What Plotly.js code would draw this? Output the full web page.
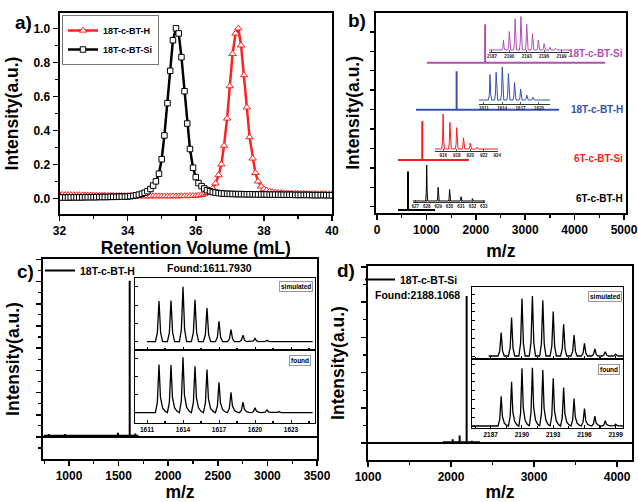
<!DOCTYPE html>
<html><head><meta charset="utf-8">
<script src="https://cdn.plot.ly/plotly-3.0.1.min.js"></script>
<style>html,body{margin:0;padding:0;background:#fff}#chart{width:638px;height:502px}</style>
</head><body><div id="chart"></div>
<script>
// ---------- Panel a: GPC (retention volume, mL) ----------
const elutionVolume = [
32.00,32.08,32.17,32.25,32.33,32.42,32.50,32.58,32.67,32.75,32.83,32.92,
33.00,33.08,33.17,33.25,33.33,33.42,33.50,33.58,33.67,33.75,33.83,33.92,
34.00,34.08,34.17,34.25,34.33,34.42,34.50,34.58,34.67,34.75,34.83,34.92,
35.00,35.08,35.17,35.25,35.33,35.42,35.50,35.58,35.67,35.75,35.83,35.92,
36.00,36.08,36.17,36.25,36.33,36.42,36.50,36.58,36.67,36.75,36.83,36.92,
37.00,37.08,37.17,37.25,37.33,37.42,37.50,37.58,37.67,37.75,37.83,37.92,
38.00,38.08,38.17,38.25,38.33,38.42,38.50,38.58,38.67,38.75,38.83,38.92,
39.00,39.08,39.17,39.25,39.33,39.42,39.50,39.58,39.67,39.75,39.83,39.92,
40.00];
const gpc18TcBTH = [
0.022,0.022,0.021,0.021,0.021,0.020,0.020,0.020,0.019,0.019,0.019,0.018,
0.018,0.018,0.017,0.017,0.017,0.016,0.016,0.016,0.015,0.015,0.015,0.015,
0.014,0.014,0.014,0.014,0.013,0.013,0.013,0.013,0.013,0.013,0.013,0.013,
0.013,0.013,0.013,0.013,0.013,0.013,0.013,0.014,0.014,0.014,0.015,0.015,
0.016,0.018,0.020,0.025,0.032,0.042,0.059,0.088,0.137,0.200,0.310,0.470,
0.660,0.850,0.970,1.000,0.900,0.725,0.535,0.360,0.235,0.150,0.100,0.070,
0.055,0.047,0.042,0.038,0.035,0.033,0.032,0.031,0.030,0.030,0.029,0.029,
0.028,0.028,0.028,0.027,0.027,0.027,0.026,0.026,0.026,0.026,0.025,0.025,
0.025];
const gpc18TcBTSi = [
0.005,0.005,0.005,0.005,0.006,0.006,0.006,0.006,0.006,0.007,0.007,0.007,
0.007,0.007,0.008,0.008,0.008,0.008,0.009,0.009,0.009,0.010,0.010,0.010,
0.011,0.013,0.015,0.018,0.022,0.027,0.033,0.042,0.055,0.075,0.100,0.145,
0.230,0.370,0.560,0.750,0.930,1.000,0.970,0.830,0.630,0.440,0.290,0.180,
0.125,0.090,0.072,0.058,0.048,0.042,0.037,0.034,0.031,0.029,0.028,0.027,
0.026,0.026,0.025,0.025,0.025,0.024,0.024,0.024,0.024,0.023,0.023,0.023,
0.023,0.023,0.022,0.022,0.022,0.022,0.021,0.021,0.021,0.021,0.021,0.020,
0.020,0.020,0.020,0.020,0.020,0.019,0.019,0.019,0.019,0.019,0.019,0.018,
0.018];

// ---------- Panel b: stacked MALDI spectra ----------
const bNames    = ['6T-c-BT-H', '6T-c-BT-Si', '18T-c-BT-H', '18T-c-BT-Si'];
const bMainMz   = [628, 916, 1612, 2188];
const bScanFrom = [425, 425, 790, 1010];
const bScanTo   = [1175, 1860, 3685, 4615];
const bIso6H_mz   = [628, 629, 630, 631, 632];
const bIso6H_int  = [1.00, 0.38, 0.32, 0.12, 0.065];
const bIso6Si_mz  = [916, 917, 918, 919, 920, 921];
const bIso6Si_int = [1.00, 0.76, 0.61, 0.32, 0.17, 0.05];
const bIso18H_mz  = [1612, 1613, 1614, 1615, 1616, 1617, 1618, 1619, 1620];
const bIso18H_int = [0.77, 0.84, 1.00, 0.80, 0.53, 0.33, 0.15, 0.08, 0.02];
const bIso18Si_mz = [2189, 2190, 2191, 2192, 2193, 2194, 2195, 2196, 2197, 2198, 2199];
const bIso18Si_int= [0.30, 0.55, 0.93, 1.00, 0.77, 0.49, 0.30, 0.19, 0.08, 0.05, 0.02];

// ---------- Panel c: 18T-c-BT-H ----------
const cMainMz  = [796, 960, 1494, 1612, 1668];
const cMainInt = [0.012, 0.012, 0.02, 1.0, 0.015];
const cIsoMz   = [1612, 1613, 1614, 1615, 1616, 1617, 1618, 1619, 1620, 1621, 1622];
const cSimInt  = [0.74, 0.75, 1.00, 0.76, 0.61, 0.37, 0.22, 0.12, 0.06, 0.025, 0.01];
const cFoundInt= [0.87, 0.86, 1.00, 0.84, 0.78, 0.55, 0.37, 0.19, 0.09, 0.05, 0.02];

// ---------- Panel d: 18T-c-BT-Si ----------
const dMainMz  = [2020, 2104, 2188, 2250];
const dMainInt = [0.02, 0.045, 1.0, 0.01];
const dIsoMz   = [2188, 2189, 2190, 2191, 2192, 2193, 2194, 2195, 2196, 2197, 2198, 2199];
const dSimInt  = [0.39, 0.64, 0.96, 1.00, 0.93, 0.74, 0.53, 0.35, 0.21, 0.12, 0.07, 0.03];
const dFoundInt= [0.51, 0.76, 0.99, 1.00, 0.96, 0.82, 0.66, 0.47, 0.30, 0.17, 0.09, 0.03];

// ---------- helpers ----------
const W = 638, H = 502;
const FF = 'Liberation Sans, Arial, sans-serif';
const f = (size, color) => ({family: FF, size: size, color: color || '#000', weight: 'bold'});
const px = X => X / W, py = Y => 1 - Y / H;

const PEAK = [[-1, 0], [-0.45, 0.22], [0, 1], [0.45, 0.22], [1, 0]];
const TAIL = [[-1, 0], [-0.45, 0.22], [0, 1], [0.4, 0.32], [1, 0.1], [1.7, 0.03]];
function profile(start, end, mz, inten, w, shape) {
  const x = [start], y = [0];
  mz.forEach((m, i) => shape.forEach(([dx, fr]) => { x.push(m + dx * w); y.push(inten[i] * fr); }));
  x.push(end); y.push(0);
  return {x, y};
}
function sticks(start, end, mz, inten, base) {
  const x = [start], y = [base];
  mz.forEach((m, i) => { x.push(m, m, m); y.push(base, base + inten[i], base); });
  x.push(end); y.push(base);
  return {x, y};
}
function frameAxis(o) {
  return Object.assign({showline: true, linewidth: 2, linecolor: '#000', mirror: true,
    ticks: 'outside', ticklen: 5, tickwidth: 1.5, tickcolor: '#000', showgrid: false,
    zeroline: false, tickfont: f(12), fixedrange: true}, o);
}
function insetAxis(o) {
  return Object.assign({showline: true, linewidth: 1.2, linecolor: '#000', mirror: true,
    ticks: 'inside', ticklen: 3, tickwidth: 1, tickcolor: '#000', showgrid: false,
    zeroline: false, showticklabels: false, tickfont: f(6.5), fixedrange: true}, o);
}
function minor(dt, len) { return {dtick: dt, ticklen: len || 3, tickwidth: 1.2, tickcolor: '#000'}; }
function ttl(text, size, standoff) { return {text: text, font: f(size), standoff: standoff}; }

const traces = [];

// panel a
traces.push({x: elutionVolume, y: gpc18TcBTH, name: '18T-c-BT-H', type: 'scatter', mode: 'lines+markers',
  line: {color: '#ff2020', width: 2.5},
  marker: {symbol: 'triangle-up', size: 6.5, color: '#fff', line: {color: '#ff2020', width: 1}},
  xaxis: 'x', yaxis: 'y', legend: 'legend'});
traces.push({x: elutionVolume, y: gpc18TcBTSi, name: '18T-c-BT-Si', type: 'scatter', mode: 'lines+markers',
  line: {color: '#000', width: 2.5},
  marker: {symbol: 'square', size: 5.5, color: '#fff', line: {color: '#000', width: 1}},
  xaxis: 'x', yaxis: 'y', legend: 'legend'});

// panel b
const bColors = ['#000000', '#ff1a1a', '#3552b0', '#b150b1'];
const bOffset = [3, 53, 103, 150], bScale = 38.5;
const bIso = [[bIso6H_mz, bIso6H_int], [bIso6Si_mz, bIso6Si_int], [bIso18H_mz, bIso18H_int], [bIso18Si_mz, bIso18Si_int]];
const bInsetRangeX = [[626.8, 633.1], [914.8, 924.1], [1610.2, 1621.8], [2186.5, 2200.3]];
const bPeakW = [0.09, 0.2, 0.25, 0.25];
bNames.forEach((nm, i) => {
  const s = sticks(bScanFrom[i], bScanTo[i], [bMainMz[i]], [bScale], bOffset[i]);
  traces.push({x: s.x, y: s.y, name: nm, type: 'scatter', mode: 'lines', showlegend: false,
    line: {color: bColors[i], width: 2}, xaxis: 'x2', yaxis: 'y2'});
  const p = profile(bInsetRangeX[i][0], bInsetRangeX[i][1], bIso[i][0], bIso[i][1], bPeakW[i], PEAK);
  traces.push({x: p.x, y: p.y, name: nm + ' isotopes', type: 'scatter', mode: 'lines', showlegend: false,
    line: {color: bColors[i], width: 1}, xaxis: 'x' + (3 + i), yaxis: 'y' + (3 + i)});
});

// panel c
const cs = sticks(745, 1700, cMainMz, cMainInt, 0.008);
traces.push({x: cs.x, y: cs.y, name: '18T-c-BT-H', type: 'scatter', mode: 'lines',
  line: {color: '#000', width: 2}, xaxis: 'x7', yaxis: 'y7', legend: 'legend2'});
const csim = profile(1611.0, 1624.8, cIsoMz, cSimInt, 0.3, PEAK);
traces.push({x: csim.x, y: csim.y, name: 'simulated', type: 'scatter', mode: 'lines', showlegend: false,
  line: {color: '#000', width: 1.3}, xaxis: 'x8', yaxis: 'y8'});
const cfd = profile(1610.0, 1624.8, cIsoMz, cFoundInt, 0.3, TAIL);
traces.push({x: cfd.x, y: cfd.y, name: 'found', type: 'scatter', mode: 'lines', showlegend: false,
  line: {color: '#000', width: 1.3}, xaxis: 'x9', yaxis: 'y9'});

// panel d
const ds = sticks(1900, 2350, dMainMz, dMainInt, 0.006);
traces.push({x: ds.x, y: ds.y, name: '18T-c-BT-Si', type: 'scatter', mode: 'lines',
  line: {color: '#000', width: 2}, xaxis: 'x10', yaxis: 'y10', legend: 'legend3'});
const dsim = profile(2186.8, 2199.7, dIsoMz, dSimInt, 0.3, PEAK);
traces.push({x: dsim.x, y: dsim.y, name: 'simulated', type: 'scatter', mode: 'lines', showlegend: false,
  line: {color: '#000', width: 1.3}, xaxis: 'x11', yaxis: 'y11'});
const dfd = profile(2185.2, 2199.7, dIsoMz, dFoundInt, 0.3, TAIL);
traces.push({x: dfd.x, y: dfd.y, name: 'found', type: 'scatter', mode: 'lines', showlegend: false,
  line: {color: '#000', width: 1.3}, xaxis: 'x12', yaxis: 'y12'});

const layout = {
  width: W, height: H, margin: {l: 0, r: 0, t: 0, b: 0},
  paper_bgcolor: '#fff', plot_bgcolor: 'rgba(0,0,0,0)', showlegend: true, font: f(12),
  // a
  xaxis: frameAxis({domain: [px(59.5), px(332)], range: [32, 40], dtick: 2, tick0: 32, minor: minor(1),
    anchor: 'y', title: ttl('Retention Volume (mL)', 17.5, 4)}),
  yaxis: frameAxis({domain: [py(214), py(13)], range: [-0.092, 1.09], dtick: 0.2, tick0: 0, tickformat: '.1f',
    minor: minor(0.1), anchor: 'x', title: ttl('Intensity(a.u.)', 17.5, 10)}),
  // b
  xaxis2: frameAxis({domain: [px(375.7), px(626)], range: [-26, 5040], dtick: 1000, tick0: 0, minor: minor(500),
    anchor: 'y2', title: ttl('m/z', 17.5, 8)}),
  yaxis2: frameAxis({domain: [py(213), py(12.7)], range: [0, 200], showticklabels: false, tick0: 6.3, dtick: 19.4,
    ticklen: 4, anchor: 'x2', title: ttl('Intensity(a.u.)', 17.5, 6)}),
  // c
  xaxis7: frameAxis({domain: [px(43), px(317)], range: [738, 3500], dtick: 500, tick0: 0, minor: minor(250),
    anchor: 'y7', title: ttl('m/z', 17.5, 7)}),
  yaxis7: frameAxis({domain: [py(459), py(259)], range: [-0.142, 1.148], showticklabels: false, tick0: 0,
    dtick: 0.1432, minor: minor(0.0716), zeroline: true, zerolinewidth: 2.5, zerolinecolor: '#000',
    anchor: 'x7', title: ttl('Intensity(a.u.)', 17.5, 12)}),
  // c insets
  xaxis8: insetAxis({domain: [px(135), px(315)], range: [1610, 1625], tick0: 1611, dtick: 3, minor: Object.assign(minor(1.5, 2), {ticks: 'inside'}), anchor: 'y8'}),
  yaxis8: insetAxis({domain: [py(350), py(278)], range: [-0.151, 1.158], tick0: 0, dtick: 0.333, anchor: 'x8'}),
  xaxis9: insetAxis({domain: [px(135), px(315)], range: [1610, 1625], tick0: 1611, dtick: 3, minor: Object.assign(minor(1.5, 2), {ticks: 'inside'}),
    showticklabels: true, anchor: 'y9'}),
  yaxis9: insetAxis({domain: [py(423), py(350)], range: [-0.186, 1.132], tick0: 0, dtick: 0.329, anchor: 'x9'}),
  // d
  xaxis10: frameAxis({domain: [px(368), px(632)], range: [1000, 4180], dtick: 1000, tick0: 0, minor: minor(500),
    anchor: 'y10', title: ttl('m/z', 17.5, 6)}),
  yaxis10: frameAxis({domain: [py(460), py(266)], range: [-0.116, 1.212], showticklabels: false, tick0: 0,
    dtick: 0.241, minor: minor(0.1205), zeroline: true, zerolinewidth: 2.5, zerolinecolor: '#000',
    anchor: 'x10', title: ttl('Intensity(a.u.)', 17.5, 12)}),
  // d insets
  xaxis11: insetAxis({domain: [px(472), px(623)], range: [2185.2, 2199.7], tick0: 2187, dtick: 3, minor: Object.assign(minor(1.5, 2), {ticks: 'inside'}), anchor: 'y11'}),
  yaxis11: insetAxis({domain: [py(359), py(287)], range: [-0.05, 1.15], tick0: 0, dtick: 0.147, anchor: 'x11'}),
  xaxis12: insetAxis({domain: [px(472), px(623)], range: [2185.2, 2199.7], tick0: 2187, dtick: 3, minor: Object.assign(minor(1.5, 2), {ticks: 'inside'}),
    showticklabels: true, anchor: 'y12'}),
  yaxis12: insetAxis({domain: [py(428), py(359)], range: [-0.034, 1.149], tick0: 0, dtick: 0.151, anchor: 'x12'}),
  legend: {x: px(62), y: py(15), xanchor: 'left', yanchor: 'top', bgcolor: '#fff', bordercolor: '#777',
    borderwidth: 1, font: f(9), tracegroupgap: 0, itemwidth: 30},
  legend2: {x: px(40), y: py(256), xanchor: 'left', yanchor: 'top', bgcolor: 'rgba(0,0,0,0)', borderwidth: 0, font: f(10.5)},
  legend3: {x: px(360), y: py(265), xanchor: 'left', yanchor: 'top', bgcolor: 'rgba(0,0,0,0)', borderwidth: 0, font: f(10.5)},
  annotations: []
};

// b inset axes
const bInsetBox = [[413, 485, 202, 160], [435, 498, 151, 109], [479, 550, 104, 62], [489, 569, 52, 12]];
const bInsetRangeY = [[-0.028, 1.139], [-0.057, 1.143], [-0.12, 1.153], [-0.06, 1.134]];
const bInsetTick = [[627, 1], [916, 2], [1611, 3], [2187, 3]];
bInsetBox.forEach((bx, i) => {
  const n = 3 + i;
  layout['xaxis' + n] = {domain: [px(bx[0]), px(bx[1])], range: bInsetRangeX[i], anchor: 'y' + n,
    showline: true, linewidth: 1, linecolor: '#333', mirror: false, ticks: 'inside', ticklen: 2, tickwidth: 0.8,
    tickcolor: '#333', tick0: bInsetTick[i][0], dtick: bInsetTick[i][1], showgrid: false, zeroline: false,
    tickfont: f(4.5, '#222'), ticklabelstandoff: 0, fixedrange: true};
  layout['yaxis' + n] = {domain: [py(bx[2]), py(bx[3])], range: bInsetRangeY[i], anchor: 'x' + n,
    visible: false, fixedrange: true};
});

function ann(text, X, Y, size, opts) {
  return Object.assign({xref: 'paper', yref: 'paper', x: px(X), y: py(Y), text: text, showarrow: false,
    font: f(size), xanchor: 'left', yanchor: 'middle'}, opts || {});
}
layout.annotations.push(
  ann('a)', 13, 23, 19), ann('b)', 346, 21, 19), ann('c)', 15, 271, 19), ann('d)', 335, 270, 19),
  ann(bNames[3], 625, 53, 10, {xanchor: 'right', font: f(10, bColors[3])}),
  ann(bNames[2], 625, 109, 10, {xanchor: 'right', font: f(10, bColors[2])}),
  ann(bNames[1], 625, 159, 10, {xanchor: 'right', font: f(10, bColors[1])}),
  ann(bNames[0], 625, 198, 10, {xanchor: 'right', font: f(10, bColors[0])}),
  ann('Found:1611.7930', 209, 268, 10.5, {xanchor: 'center'}),
  ann('Found:2188.1068', 373, 295, 10.5),
  ann('simulated', 313, 286.5, 6.5, {xanchor: 'right', bordercolor: '#999', borderwidth: 1, borderpad: 1, bgcolor: '#fff'}),
  ann('found', 311, 360, 6.5, {xanchor: 'right', bordercolor: '#999', borderwidth: 1, borderpad: 1, bgcolor: '#fff'}),
  ann('simulated', 622, 296.5, 6.5, {xanchor: 'right', bordercolor: '#999', borderwidth: 1, borderpad: 1, bgcolor: '#fff'}),
  ann('found', 620, 369, 6.5, {xanchor: 'right', bordercolor: '#999', borderwidth: 1, borderpad: 1, bgcolor: '#fff'})
);

Plotly.newPlot('chart', traces, layout, {displayModeBar: false, staticPlot: true});
</script></body></html>
